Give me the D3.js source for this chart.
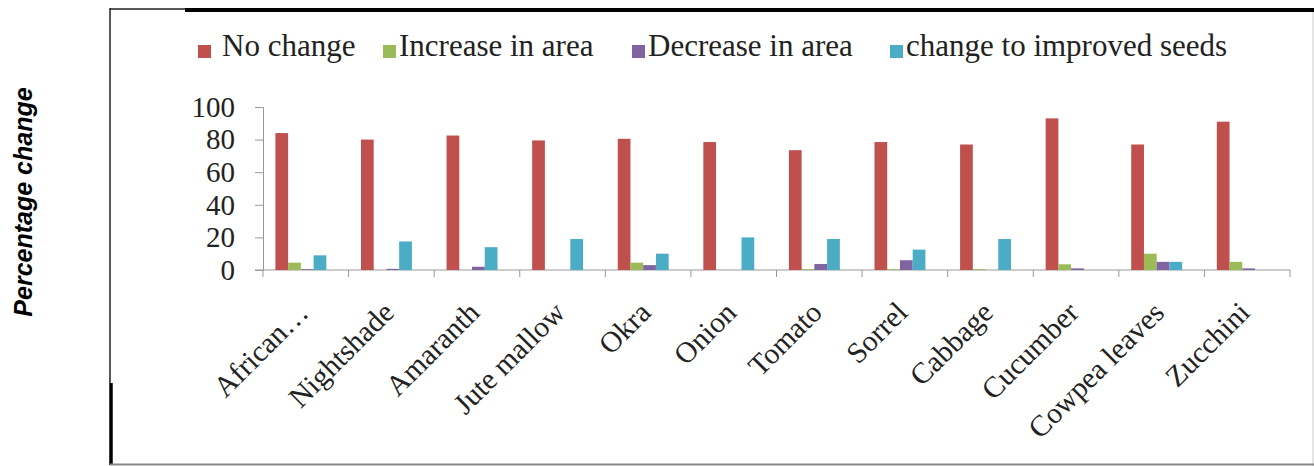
<!DOCTYPE html>
<html>
<head>
<meta charset="utf-8">
<script src="https://cdn.jsdelivr.net/npm/d3@7"></script>
<style>
  body { margin: 0; background: #fff; }
  svg { display: block; }
</style>
</head>
<body>
<div id="chart"></div>
<script>
const categories = ["African\u2026", "Nightshade", "Amaranth", "Jute mallow", "Okra", "Onion",
    "Tomato", "Sorrel", "Cabbage", "Cucumber", "Cowpea leaves", "Zucchini"];
const seriesNames = ["No change", "Increase in area", "Decrease in area", "change to improved seeds"];
const noChange = [84, 80, 82.5, 79.5, 80.5, 78.5, 73.5, 78.5, 77, 93, 77, 91];
const increaseArea = [4.5, 0, 0, 0, 4.5, 0, 0.5, 0.5, 0.5, 3.5, 10, 5];
const decreaseArea = [0.5, 0.7, 2, 0, 3, 0, 3.7, 6, 0, 1, 5, 1];
const improvedSeeds = [9, 17.5, 14, 19, 10, 20, 19, 12.5, 19, 0, 5, 0];
const yTicks = [0, 20, 40, 60, 80, 100];
const colors = ["#C0504D", "#9BBB59", "#8064A2", "#4BACC6"];

function renderChart() {
    const width = 1314, height = 466;
    const margin = {left: 263, right: 24, top: 107, bottom: 196};

    const svg = d3.select("#chart").append("svg")
        .attr("width", width)
        .attr("height", height);

    const values = [noChange, increaseArea, decreaseArea, improvedSeeds];
    const data = categories.map((c, i) => ({
        name: c,
        vals: seriesNames.map((s, j) => ({series: s, idx: j, value: values[j][i]}))
    }));

    const x0 = d3.scaleBand()
        .domain(categories)
        .range([margin.left, width - margin.right])
        .padding(0);
    const bw = x0.bandwidth();
    const x1 = d3.scaleBand()
        .domain(seriesNames)
        .range([bw * 0.145, bw * 0.74])
        .padding(0);
    const y = d3.scaleLinear()
        .domain([0, 100])
        .range([height - margin.bottom, margin.top]);

    // frame
    svg.append("line").attr("x1", 110).attr("x2", 110).attr("y1", 8).attr("y2", 384)
        .attr("stroke", "#222").attr("stroke-width", 1.5);
    svg.append("line").attr("x1", 111).attr("x2", 111).attr("y1", 383).attr("y2", 465)
        .attr("stroke", "#000").attr("stroke-width", 3.5);
    svg.append("line").attr("x1", 110).attr("x2", 186).attr("y1", 9).attr("y2", 9)
        .attr("stroke", "#222").attr("stroke-width", 1.5);
    svg.append("line").attr("x1", 185).attr("x2", 1314).attr("y1", 10).attr("y2", 10)
        .attr("stroke", "#000").attr("stroke-width", 4);
    svg.append("line").attr("x1", 1313).attr("x2", 1313).attr("y1", 12).attr("y2", 466)
        .attr("stroke", "#ccc").attr("stroke-width", 1);
    svg.append("line").attr("x1", 110).attr("x2", 1314).attr("y1", 464.5).attr("y2", 464.5)
        .attr("stroke", "#888").attr("stroke-width", 2);

    // y axis
    const yAxis = svg.append("g")
        .attr("transform", `translate(${margin.left},0)`)
        .call(d3.axisLeft(y).tickValues(yTicks).tickSize(8).tickPadding(20));
    yAxis.select(".domain").attr("stroke", "#999");
    yAxis.selectAll(".tick line").attr("stroke", "#999");
    yAxis.selectAll("text")
        .attr("font-family", "'Liberation Serif', 'Times New Roman', serif")
        .attr("font-size", 29)
        .attr("fill", "#222");

    // x axis with tick marks at band edges
    const xAxis = svg.append("g")
        .attr("transform", `translate(0,${y(0)})`);
    xAxis.append("line")
        .attr("x1", margin.left - 8).attr("x2", width - margin.right)
        .attr("stroke", "#999");
    xAxis.selectAll("line.tk")
        .data(categories.concat([null]))
        .join("line")
        .attr("class", "tk")
        .attr("x1", (d, i) => margin.left + i * bw)
        .attr("x2", (d, i) => margin.left + i * bw)
        .attr("y1", 0).attr("y2", 7)
        .attr("stroke", "#999");

    // bars
    svg.append("g")
        .selectAll("g")
        .data(data)
        .join("g")
        .attr("transform", d => `translate(${x0(d.name)},0)`)
        .selectAll("rect")
        .data(d => d.vals)
        .join("rect")
        .attr("x", d => x1(d.series))
        .attr("width", x1.bandwidth())
        .attr("y", d => y(d.value))
        .attr("height", d => y(0) - y(d.value))
        .attr("fill", d => colors[d.idx]);

    // category labels
    svg.append("g")
        .selectAll("text")
        .data(categories)
        .join("text")
        .attr("transform", d => `translate(${x0(d) + bw / 2 - 3},307) rotate(-45)`)
        .attr("text-anchor", "end")
        .attr("dy", "0.35em")
        .attr("font-family", "'Liberation Serif', 'Times New Roman', serif")
        .attr("font-size", 29.5)
        .attr("fill", "#222")
        .text(d => d);

    // legend
    const legendX = [198, 383, 632, 890];
    const legend = svg.append("g")
        .selectAll("g")
        .data(seriesNames)
        .join("g")
        .attr("transform", (d, i) => `translate(${legendX[i]},45)`);
    legend.append("rect")
        .attr("width", 13).attr("height", 13)
        .attr("fill", (d, i) => colors[i]);
    legend.append("text")
        .attr("x", (d, i) => i == 0 ? 24 : 16)
        .attr("y", 11)
        .attr("font-family", "'Liberation Serif', 'Times New Roman', serif")
        .attr("font-size", 31)
        .attr("fill", "#222")
        .text(d => d);

    // y axis title
    svg.append("text")
        .attr("transform", "translate(32,202) rotate(-90)")
        .attr("text-anchor", "middle")
        .attr("font-family", "'Liberation Sans', Arial, sans-serif")
        .attr("font-weight", "bold")
        .attr("font-style", "italic")
        .attr("font-size", 25)
        .attr("fill", "#000")
        .text("Percentage change");
}

document.addEventListener("DOMContentLoaded", function(event) {
    renderChart()
});
</script>
</body>
</html>
